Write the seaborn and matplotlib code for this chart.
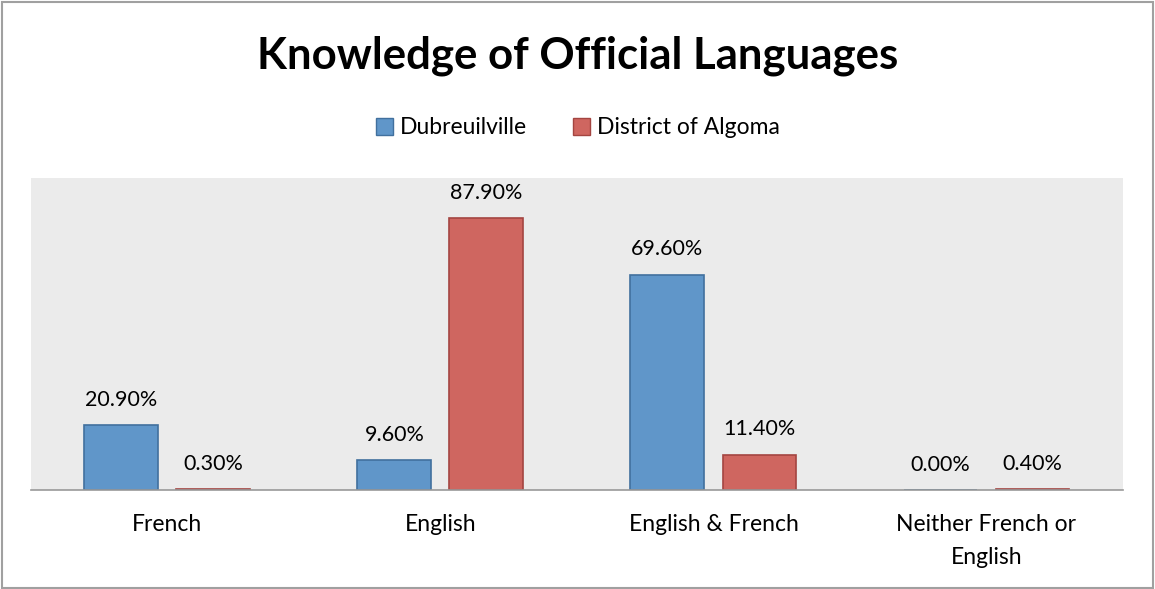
import pandas as pd
import seaborn as sns
import matplotlib.pyplot as plt
from matplotlib.patches import Rectangle

categories = ["French", "English", "English & French", "Neither French or\nEnglish"]
dubreuilville = [20.9, 9.6, 69.6, 0.0]
algoma = [0.3, 87.9, 11.4, 0.4]
series_names = ["Dubreuilville", "District of Algoma"]


def main():
    df = pd.DataFrame({
        "category": categories * 2,
        "value": dubreuilville + algoma,
        "series": [series_names[0]] * 4 + [series_names[1]] * 4,
    })

    sns.set_style("white")
    plt.rcParams["font.family"] = ["Lato", "DejaVu Sans"]
    plt.rcParams["text.color"] = "black"
    plt.rcParams["xtick.color"] = "black"

    fig = plt.figure(figsize=(11.55, 5.89), dpi=100)
    ax = fig.add_axes([0.0268, 0.168, 0.9455, 0.530])
    ax.set_facecolor("#EBEBEB")

    palette = {series_names[0]: "#6096C9", series_names[1]: "#CF6660"}
    sns.barplot(data=df, x="category", y="value", hue="series", palette=palette,
                width=0.674, gap=0.196, ax=ax, legend=False, saturation=1)

    edges = ["#41709E", "#A44541"]
    for i, cont in enumerate(ax.containers):
        for bar in cont:
            bar.set_edgecolor(edges[i])
            bar.set_linewidth(1.2)
        ax.bar_label(cont, labels=[f"{v:.2f}%" for v in cont.datavalues],
                     padding=11, fontsize=15.5)

    ax.set_ylim(0, 100.8)
    ax.set_xlim(-0.5, 3.5)
    ax.set_xlabel("")
    ax.set_ylabel("")
    ax.set_yticks([])
    ax.set_xticks(range(len(categories)), labels=categories, linespacing=1.75)
    ax.tick_params(axis="x", length=0, labelsize=16.5, pad=17)
    for s in ["top", "left", "right"]:
        ax.spines[s].set_visible(False)
    ax.spines["bottom"].set_color("#999999")
    ax.spines["bottom"].set_linewidth(1.2)

    fig.text(0.5, 0.905, "Knowledge of Official Languages", ha="center", va="center",
             fontsize=31.5, fontweight="bold")

    handles = [Rectangle((0, 0), 1, 1, facecolor=palette[n], edgecolor=e, linewidth=1)
               for n, e in zip(series_names, edges)]
    fig.legend(handles, series_names, loc="center", bbox_to_anchor=(0.5, 0.783),
               ncol=2, frameon=False, fontsize=16.5, handlelength=0.75,
               handleheight=0.75, handletextpad=0.3, columnspacing=2.0)

    fig.patches.append(Rectangle((0.002, 0.002), 0.996, 0.994, transform=fig.transFigure,
                                 fill=False, edgecolor="#A0A0A0", linewidth=1.5))

    fig.savefig("out.png", dpi=100)


if __name__ == "__main__":
    main()
